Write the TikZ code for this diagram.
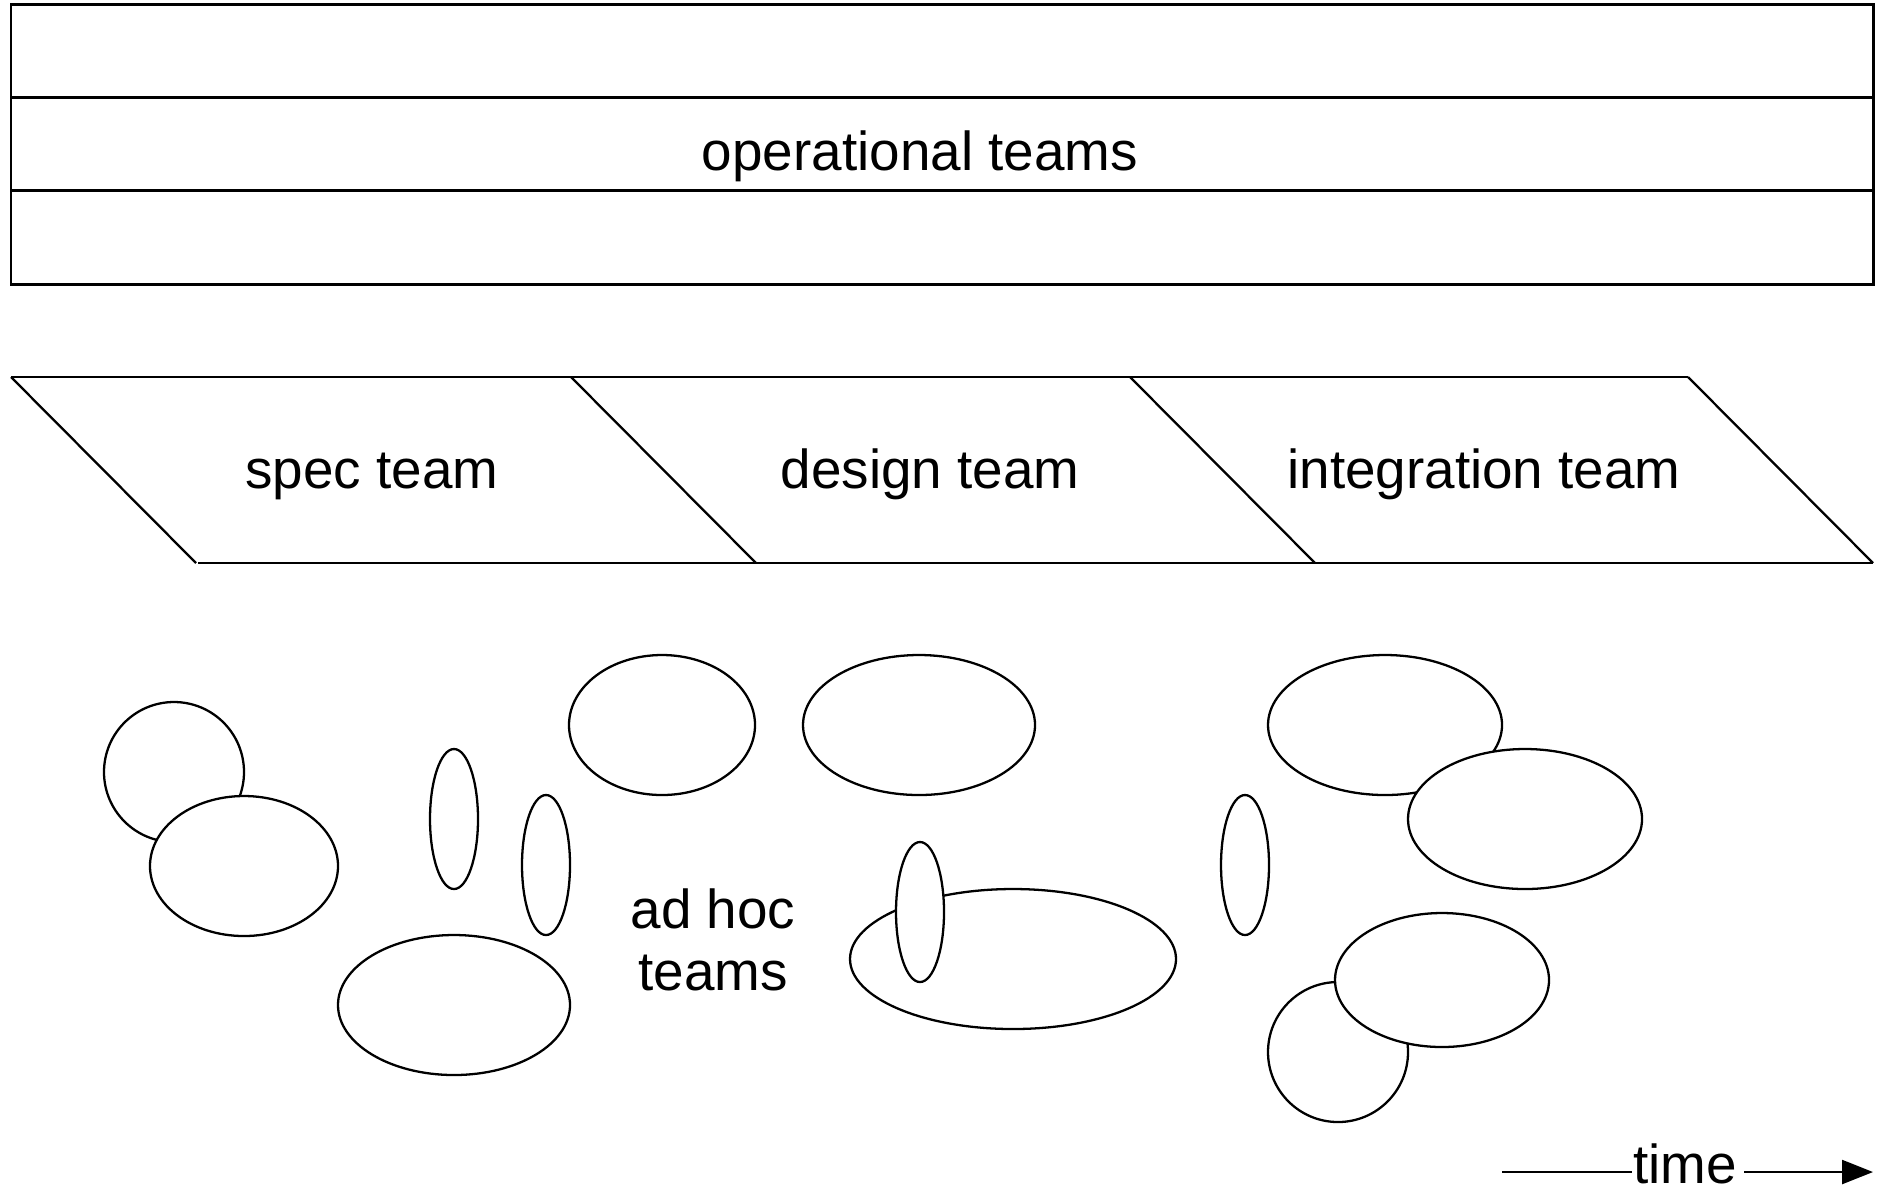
\documentclass[tikz,border=0pt]{standalone}
\usepackage{fontspec}
\setmainfont{Liberation Sans}
\usetikzlibrary{arrows.meta}

\tikzset{
  lbl/.style={font=\fontsize{15.6pt}{17.4pt}\selectfont,inner sep=0pt,anchor=base},
  blob/.style={draw=black,fill=white},
}

\begin{document}
\begin{tikzpicture}[x=0.01cm,y=-0.01cm,line width=0.65pt]
  \useasboundingbox (0,0) rectangle (1877,1190);
  % operational teams
  \draw[line width=0.85pt] (11,4) rectangle (1873,284);
  \draw[line width=0.85pt] (11,97) -- (1873,97);
  \draw[line width=0.85pt] (11,190) -- (1873,190);
  \node[lbl] (ops) at (920,170) {operational teams};
  % project teams
  \draw (11,377) -- (1688,377);
  \draw (198,563) -- (1873,563);
  \foreach \x in {11,571,1130,1688}
    \draw (\x,377) -- ++(185,186);
  \node[lbl] (spec) at (372,488) {spec team};
  \node[lbl] (design) at (930,488) {design team};
  \node[lbl] (integ) at (1484,488) {integration team};
  % ad hoc teams
  \filldraw[blob] (174,772) ellipse [x radius=70,y radius=70];
  \filldraw[blob] (244,866) ellipse [x radius=94,y radius=70];
  \filldraw[blob] (454,819) ellipse [x radius=24,y radius=70];
  \filldraw[blob] (546,865) ellipse [x radius=24,y radius=70];
  \filldraw[blob] (662,725) ellipse [x radius=93,y radius=70];
  \filldraw[blob] (919,725) ellipse [x radius=116,y radius=70];
  \filldraw[blob] (454,1005) ellipse [x radius=116,y radius=70];
  \filldraw[blob] (1013,959) ellipse [x radius=163,y radius=70];
  \filldraw[blob] (920,912) ellipse [x radius=24,y radius=70];
  \filldraw[blob] (1245,865) ellipse [x radius=24,y radius=70];
  \filldraw[blob] (1385,725) ellipse [x radius=117,y radius=70];
  \filldraw[blob] (1525,819) ellipse [x radius=117,y radius=70];
  \filldraw[blob] (1338,1052) ellipse [x radius=70,y radius=70];
  \filldraw[blob] (1442,980) ellipse [x radius=107,y radius=67];
  \node[lbl,align=center] (adhoc) at (713,990) {ad hoc\\teams};
  % time
  \node[lbl] (time) at (1685,1183) {time};
  \coordinate (tl) at (1502,1172);
  \coordinate (tr) at (1873,1172);
  \draw (tl) -- (tl -| time.west);
  \draw[-{Triangle[length=0.31cm,width=0.24cm]}] ([xshift=0.06cm]tl -| time.east) -- (tr);
\end{tikzpicture}
\end{document}
